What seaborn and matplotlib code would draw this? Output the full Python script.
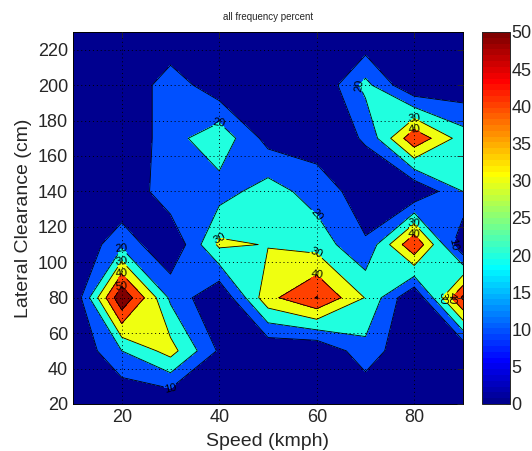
import numpy as np
import pandas as pd
import seaborn as sns
import matplotlib
matplotlib.use("Agg")
import matplotlib.pyplot as plt
from matplotlib.colors import ListedColormap, Normalize
from matplotlib.cm import ScalarMappable

# ---- data (percent of all observations) ----
speed = [10, 20, 30, 40, 50, 60, 70, 80, 90]
clearance = [20, 50, 80, 110, 140, 170, 200, 230]
pct_c20 = [0, 0, 0, 0, 0, 0, 0, 0, 0]
pct_c50 = [0, 20, 34, 8.5, 1, 0, 16.5, 0, 0]
pct_c80 = [0, 59, 18, 0, 37, 50.5, 29.5, 0, 52]
pct_c110 = [0, 17, 0, 32, 29.5, 26, 11, 49.5, 0]
pct_c140 = [0, 0, 17.5, 15.6, 24.8, 15.3, 5, 0, 20]
pct_c170 = [0, 0, 16, 27, 6.3, 5, 10.8, 48, 25]
pct_c200 = [0, 0, 16, 3, 0, 0, 23, 0, 2.5]
pct_c230 = [0, 0, 0, 0, 0, 0, 0, 0, 0]
levels = [0, 10, 20, 30, 40, 50]
cbar_ticks = [0, 5, 10, 15, 20, 25, 30, 35, 40, 45, 50]

rows = [pct_c20, pct_c50, pct_c80, pct_c110, pct_c140, pct_c170, pct_c200, pct_c230]
df = pd.DataFrame(rows, index=clearance, columns=speed)

# ---- MATLAB-like jet(64) colormap ----
def matlab_jet(n=64):
    m = int(np.ceil(n / 4))
    u = np.concatenate([np.arange(1, m + 1) / m, np.ones(m - 1), np.arange(m, 0, -1) / m])
    g = int(np.ceil(m / 2)) - (1 if n % 4 == 1 else 0) + np.arange(1, len(u) + 1)
    r = g + m
    b = g - m
    out = np.zeros((n, 3))
    for ch, idx in ((0, r), (1, g), (2, b)):
        ok = (idx >= 1) & (idx <= n)
        out[idx[ok] - 1, ch] = u[ok]
    return out

jet64 = matlab_jet(64)
cmin, cmax = 0, 50
fill_colors = [jet64[min(int(np.floor((L - cmin) / (cmax - cmin) * 64)), 63)] for L in levels]

sns.set_style("white")
plt.rcParams["font.family"] = ["Liberation Sans", "DejaVu Sans"]

fig = plt.figure(figsize=(5.32, 4.51), dpi=100)
ax = fig.add_axes([73 / 532, 47 / 451, 390 / 532, 372 / 451])
cax = fig.add_axes([482 / 532, 47 / 451, 28 / 532, 372 / 451])

X, Y = np.meshgrid(df.columns.values, df.index.values)
Z = df.values.astype(float)

ax.contourf(X, Y, Z, levels=levels + [100], colors=fill_colors, zorder=1)
cl = ax.contour(X, Y, Z, levels=levels[1:], colors="k", linewidths=0.6, zorder=2)
ax.clabel(cl, fmt="%d", fontsize=8, inline=True, inline_spacing=1)

ax.set_xlim(10, 90)
ax.set_ylim(20, 230)
ax.set_xticks([20, 40, 60, 80])
ax.set_yticks(list(range(20, 221, 20)))
ax.set_axisbelow(False)
ax.grid(True, linestyle=(0, (1, 3)), color="k", linewidth=0.7)
ax.tick_params(direction="in", labelsize=13, length=4, top=True, right=True, width=0.6)
for s in ax.spines.values():
    s.set_color("k")
    s.set_linewidth(0.7)
    s.set_visible(True)

ax.set_xlabel("Speed (kmph)", fontsize=14, labelpad=5)
ax.set_ylabel("Lateral Clearance (cm)", fontsize=14, labelpad=4)
ax.set_title("all frequency percent", fontsize=7, pad=9)

sm = ScalarMappable(norm=Normalize(cmin, cmax), cmap=ListedColormap(jet64))
cb = fig.colorbar(sm, cax=cax, ticks=cbar_ticks)
cb.outline.set_linewidth(0.7)
cax.tick_params(labelsize=13, direction="in", length=3, width=0.6, pad=1)

fig.savefig("out.png", dpi=100)
